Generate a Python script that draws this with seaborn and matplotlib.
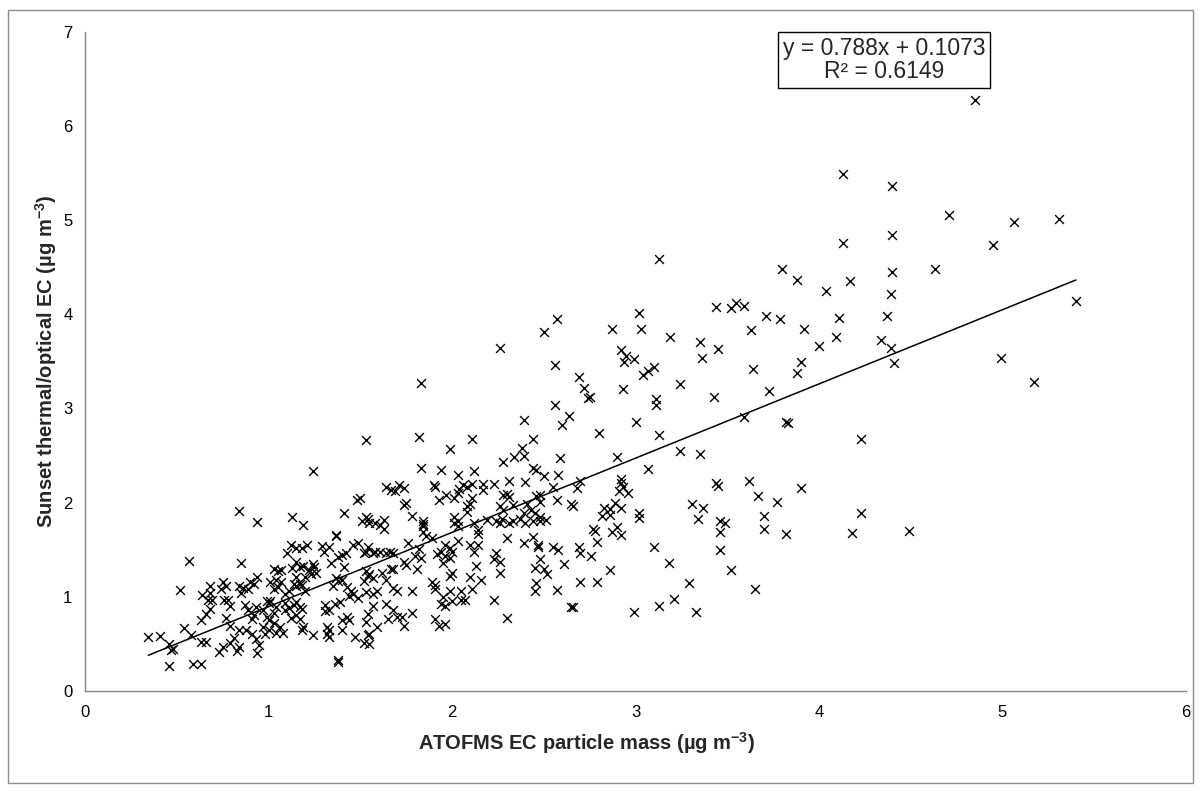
import matplotlib
matplotlib.use("Agg")
import matplotlib.pyplot as plt
from matplotlib.patches import Rectangle
import seaborn as sns
import numpy as np
import pandas as pd

# ---------------- data ----------------
atofms_ec = [
    # high / right part
    4.85, 4.13, 4.40, 4.71, 5.06, 5.31, 4.40, 4.95, 4.13, 4.40, 4.63, 4.39, 4.37, 5.40, 4.39, 4.34, 4.99, 4.41, 5.17, 4.49,
    # x 2.7 - 4.3, upper
    3.13, 3.80, 3.88, 4.17, 4.04, 3.44, 3.52, 3.55, 3.59, 3.02, 3.71, 3.79, 4.11, 2.87, 3.03, 3.63, 3.92, 3.19, 4.09,
    3.35, 3.45, 4.00, 2.92, 2.95, 2.94, 2.99, 3.36, 3.90, 3.88, 3.10, 3.07, 3.04, 3.64, 3.24, 2.93, 3.73, 3.43, 3.11,
    3.11, 2.75, 3.59, 3.00, 3.83, 3.82, 2.80, 3.13, 4.23, 2.90, 3.24, 3.35, 3.07, 2.92, 2.92, 3.44, 3.45, 3.62, 3.90,
    # x 2.7 - 4.3, lower
    2.93, 2.91, 2.96, 2.89, 2.83, 2.86, 2.92, 2.82, 2.86, 3.02, 3.02, 2.78, 2.87, 2.90, 2.92, 2.79, 2.76, 2.86, 2.79,
    2.99, 3.10, 3.18, 3.13, 3.21, 3.29, 3.33, 3.31, 3.37, 3.34, 3.67, 3.77, 3.46, 3.49, 3.46, 3.46, 3.52, 3.70, 3.70,
    3.82, 3.65, 4.18, 4.23,
    # x 2.2 - 2.6, high
    2.26, 2.57, 2.50, 2.56,
    # x 1.5 - 2.8, y 1.7 - 3.4
    1.83, 1.53, 1.82, 2.11, 1.99, 1.83, 1.94, 2.12, 2.03, 2.69, 2.72, 2.74, 2.56, 2.64, 2.60, 2.39, 2.44, 2.38, 2.34,
    2.39, 2.28, 2.59, 2.44, 2.46, 2.50, 2.58, 2.31, 2.40, 2.23, 2.55, 2.70, 2.68, 1.64, 1.67, 1.71, 1.74, 1.69, 1.90,
    1.91, 1.97, 1.93, 2.01, 2.04, 2.08, 2.11, 2.17, 2.17, 2.03, 2.06, 2.11, 2.10, 2.08, 2.08, 2.28, 2.31, 2.30, 2.26,
    2.28, 2.33, 2.41, 2.43, 2.46, 2.48, 2.48, 2.45, 2.48, 2.39, 2.37, 2.40, 2.33, 2.27, 2.26, 2.51, 2.57, 2.65, 2.66,
    1.74, 1.75, 1.78, 1.84, 1.50, 1.53, 1.54, 1.58, 1.61, 1.63, 2.01, 2.03, 2.19, 2.77,
    # x 0.8 - 1.5, y 1.7 - 2.4
    1.24, 1.48, 0.84, 0.94, 1.13, 1.19, 1.41, 1.51,
    # x 0.3 - 1.55, y < 1.7
    1.37, 1.37, 0.565, 0.85, 0.52, 0.345, 0.41, 0.46, 0.48, 0.47, 0.46, 0.59, 0.63, 0.54, 0.58, 0.63, 0.66, 0.63,
    0.66, 0.68, 0.64, 0.68, 0.68, 0.67, 0.69, 0.75, 0.77, 0.74, 0.76, 0.78, 0.79, 0.77, 0.84, 0.79, 0.84, 0.86, 0.89,
    0.85, 0.94, 0.92, 0.90, 0.87, 0.89, 0.92, 0.91, 0.81, 0.79, 0.75, 0.73, 0.83, 0.84, 0.94, 0.95, 0.93, 0.98, 1.00,
    1.03, 0.97, 0.91, 0.88, 0.99, 1.00, 0.97, 1.00, 0.99, 0.93, 1.01, 1.04, 1.07, 1.03, 1.05, 1.07, 1.03, 1.05, 1.01,
    1.04, 1.03, 1.06, 1.08, 1.04, 1.09, 1.11, 1.09, 1.14, 1.12, 1.10, 1.15, 1.21, 1.18, 1.15, 1.17, 1.13, 1.19, 1.22,
    1.24, 1.25, 1.26, 1.23, 1.20, 1.15, 1.14, 1.17, 1.15, 1.18, 1.20, 1.11, 1.09, 1.15, 1.17, 1.18, 1.15, 1.12, 1.17,
    1.19, 1.18, 1.24, 1.29, 1.33, 1.30, 1.34, 1.38, 1.40, 1.42, 1.46, 1.49, 1.52, 1.53, 1.41, 1.37, 1.38, 1.40, 1.35,
    1.43, 1.45, 1.44, 1.46, 1.49, 1.53, 1.52, 1.54, 1.31, 1.33, 1.31, 1.39, 1.36, 1.43, 1.40, 1.44, 1.32, 1.33, 1.32,
    1.33, 1.40, 1.47, 1.52, 1.54, 1.38, 1.38,
    # x 1.5 - 2.8, y < 1.8
    1.84, 1.84, 2.01, 2.03, 2.12, 2.14, 2.14, 1.55, 1.63, 2.24, 2.31, 2.44, 2.48, 2.30, 2.39, 2.44, 2.47, 2.47, 2.55,
    2.58, 2.69, 2.70, 2.48, 2.61, 2.45, 2.50, 2.52, 2.70, 2.46, 2.45, 2.57, 2.66, 2.65, 2.30, 2.23, 2.24, 2.23, 2.26,
    2.26, 2.16, 2.13, 2.10, 2.12, 2.14, 2.03, 1.99, 2.00, 1.96, 1.94, 1.92, 1.96, 1.95, 1.99, 1.86, 1.89, 1.84, 1.76,
    1.82, 1.80, 1.83, 1.81, 1.75, 1.74, 1.68, 1.66, 1.64, 1.61, 1.58, 1.57, 1.54, 1.68, 1.67, 1.53, 1.55, 1.57, 1.62,
    1.64, 1.68, 1.70, 1.78, 1.89, 1.91, 1.91, 1.99, 2.00, 1.99, 2.10, 2.11, 2.05, 2.05, 2.07, 1.95, 1.94, 1.96, 2.00,
    1.57, 1.59, 1.57, 1.64, 1.68, 1.73, 1.78, 1.70, 1.65, 1.54, 1.53, 1.59, 1.74, 1.91, 1.93, 1.96, 1.55, 1.55,
]
sunset_ec = [
    6.27, 5.49, 5.36, 5.05, 4.98, 5.01, 4.84, 4.73, 4.75, 4.45, 4.48, 4.21, 3.98, 4.14, 3.64, 3.73, 3.53, 3.48, 3.28, 1.70,
    4.58, 4.48, 4.36, 4.35, 4.25, 4.08, 4.07, 4.12, 4.09, 4.01, 3.98, 3.95, 3.96, 3.84, 3.84, 3.83, 3.84, 3.76, 3.76,
    3.70, 3.63, 3.66, 3.62, 3.56, 3.49, 3.52, 3.53, 3.49, 3.38, 3.44, 3.40, 3.35, 3.42, 3.26, 3.21, 3.18, 3.12, 3.10,
    3.04, 3.12, 2.91, 2.86, 2.84, 2.86, 2.74, 2.72, 2.68, 2.48, 2.55, 2.52, 2.36, 2.25, 2.21, 2.21, 2.18, 2.23, 2.15,
    2.17, 2.12, 2.10, 2.00, 1.94, 1.93, 1.94, 1.86, 1.87, 1.89, 1.84, 1.70, 1.69, 1.74, 1.66, 1.58, 1.43, 1.28, 1.16,
    0.84, 1.53, 1.36, 0.90, 0.98, 1.15, 0.84, 1.99, 1.94, 1.83, 2.07, 2.01, 1.80, 1.78, 1.69, 1.50, 1.28, 1.86, 1.72,
    1.67, 1.08, 1.68, 1.89,
    3.64, 3.95, 3.81, 3.46,
    3.27, 2.66, 2.70, 2.67, 2.57, 2.37, 2.35, 2.34, 2.29, 3.33, 3.22, 3.11, 3.04, 2.92, 2.82, 2.88, 2.67, 2.58, 2.48,
    2.49, 2.43, 2.47, 2.37, 2.35, 2.28, 2.29, 2.23, 2.22, 2.20, 2.17, 2.23, 2.15, 2.16, 2.13, 2.19, 2.15, 2.12, 2.19,
    2.16, 2.08, 2.03, 2.05, 2.14, 2.17, 2.20, 2.20, 2.13, 2.10, 2.19, 2.05, 1.99, 1.96, 1.90, 2.08, 2.06, 2.09, 1.96,
    1.92, 1.97, 1.99, 1.92, 2.07, 2.08, 2.01, 1.89, 1.85, 1.89, 1.83, 1.78, 1.80, 1.83, 1.78, 1.82, 2.03, 1.99, 1.96,
    1.97, 2.00, 1.86, 1.77, 2.05, 1.85, 1.83, 1.78, 1.76, 1.81, 1.85, 1.80, 1.82, 1.72,
    2.34, 2.03, 1.91, 1.79, 1.85, 1.76, 1.89, 1.80,
    1.66, 1.64, 1.38, 1.36, 1.07, 0.57, 0.58, 0.50, 0.45, 0.43, 0.27, 0.29, 0.29, 0.67, 0.59, 0.52, 0.52, 0.75,
    0.82, 0.87, 1.02, 1.11, 1.04, 0.97, 0.97, 1.16, 1.11, 1.08, 0.97, 0.97, 0.90, 0.78, 0.65, 0.69, 1.11, 1.09, 1.08,
    1.04, 1.21, 1.14, 1.16, 0.91, 0.86, 0.81, 0.76, 0.56, 0.51, 0.47, 0.41, 0.42, 0.47, 0.40, 0.49, 0.55, 0.61, 0.65,
    0.72, 0.68, 0.61, 0.65, 0.79, 0.75, 0.86, 0.93, 0.96, 0.89, 1.16, 1.18, 1.16, 1.30, 1.27, 1.28, 1.08, 1.10, 0.96,
    0.89, 0.83, 0.68, 0.62, 0.62, 0.93, 0.88, 0.86, 0.91, 1.55, 1.47, 1.52, 1.55, 1.52, 1.37, 1.32, 1.31, 1.33, 1.28,
    1.35, 1.32, 1.25, 1.24, 1.21, 1.21, 1.14, 1.14, 1.11, 1.13, 1.06, 1.06, 1.03, 0.94, 0.89, 0.87, 0.81, 0.77, 0.76,
    0.68, 0.65, 0.59, 1.54, 1.53, 1.48, 1.36, 1.42, 1.44, 1.46, 1.55, 1.57, 1.46, 1.48, 1.32, 1.20, 1.17, 1.18, 1.11,
    1.10, 1.06, 1.01, 1.03, 0.99, 1.05, 1.17, 1.22, 0.91, 0.86, 0.85, 0.94, 0.92, 0.79, 0.75, 0.75, 0.68, 0.65, 0.61,
    0.57, 0.65, 0.57, 0.51, 0.59, 0.31, 0.33,
    1.80, 1.75, 1.78, 1.75, 1.78, 1.71, 1.67, 1.78, 1.72, 1.80, 1.78, 1.80, 1.80, 1.62, 1.57, 1.63, 1.55, 1.53, 1.53,
    1.50, 1.53, 1.47, 1.40, 1.35, 1.31, 1.30, 1.24, 1.16, 1.15, 1.06, 1.07, 0.89, 0.89, 0.78, 0.97, 1.46, 1.40, 1.37,
    1.25, 1.18, 1.33, 1.55, 1.48, 1.55, 1.59, 1.52, 1.48, 1.55, 1.48, 1.45, 1.43, 1.36, 1.41, 1.64, 1.62, 1.69, 1.57,
    1.51, 1.43, 1.41, 1.30, 1.34, 1.37, 1.46, 1.48, 1.46, 1.48, 1.48, 1.46, 1.53, 1.30, 1.29, 1.27, 1.24, 1.20, 1.25,
    1.18, 1.09, 1.06, 1.06, 1.16, 1.08, 1.12, 1.06, 1.25, 1.22, 1.21, 1.08, 1.06, 0.97, 0.97, 1.00, 0.92, 0.90, 0.96,
    1.03, 1.06, 0.90, 0.92, 0.86, 0.79, 0.83, 0.79, 0.76, 0.82, 0.73, 0.68, 0.69, 0.76, 0.69, 0.71, 0.61, 0.50,
]

fit_slope = 0.788
fit_intercept = 0.1073
fit_r2 = 0.6149

x_ticks = [0, 1, 2, 3, 4, 5, 6]
y_ticks = [0, 1, 2, 3, 4, 5, 6, 7]
x_label = r"ATOFMS EC particle mass (µg m$^{\mathbf{-3}}$)"
y_label = r"Sunset thermal/optical EC (µg m$^{\mathbf{-3}}$)"

# ---------------- style ----------------
sns.set_theme(style="white")
plt.rcParams['font.family'] = ['Liberation Sans', 'DejaVu Sans']
plt.rcParams['mathtext.fontset'] = 'custom'
plt.rcParams['mathtext.rm'] = 'Liberation Sans'
plt.rcParams['mathtext.bf'] = 'Liberation Sans:bold'
plt.rcParams['mathtext.it'] = 'Liberation Sans:italic'

W, H = 1201, 791
fig = plt.figure(figsize=(W / 100, H / 100), dpi=100)
fig.patch.set_facecolor('white')

# outer chart border
fig.patches.append(Rectangle((8 / W, 8 / H), (1193 - 8) / W, (781 - 8) / H,
                             transform=fig.transFigure, fill=False,
                             edgecolor='#8c8c8c', linewidth=1.0))

ax_left, ax_right, ax_top, ax_bot = 85, 1186, 31.5, 691
ax = fig.add_axes([ax_left / W, (H - ax_bot) / H, (ax_right - ax_left) / W, (ax_bot - ax_top) / H])
ax.set_facecolor('white')

df = pd.DataFrame({'atofms': atofms_ec, 'sunset': sunset_ec})
sns.scatterplot(data=df, x='atofms', y='sunset', marker='x', color='black',
                s=40, linewidth=1.0, ax=ax, zorder=3)

fit_x = np.array([min(atofms_ec), max(atofms_ec)])
fit_y = fit_slope * fit_x + fit_intercept
sns.lineplot(x=fit_x, y=fit_y, color='black', linewidth=1.1, ax=ax, zorder=4)

ax.set_xlim(0, 6)
ax.set_ylim(0, 7)
ax.set_xticks(x_ticks)
ax.set_yticks(y_ticks)
ax.set_xticklabels([str(t) for t in x_ticks])
ax.set_yticklabels([str(t) for t in y_ticks])

for side in ['top', 'right']:
    ax.spines[side].set_visible(False)
for side in ['left', 'bottom']:
    ax.spines[side].set_color('#868686')
    ax.spines[side].set_linewidth(1.0)

ax.tick_params(axis='both', direction='out', length=5, width=1, color='#868686',
               labelsize=12, labelcolor='#000000', pad=4)
ax.tick_params(axis='x', pad=5)
ax.grid(False)

ax.set_xlabel(x_label, fontsize=14.5, fontweight='bold')
ax.set_ylabel(y_label, fontsize=14.5, fontweight='bold', labelpad=3)
# the x-axis title sits left of the plot-area centre in the reference
ax.xaxis.set_label_coords((586 - ax_left) / (ax_right - ax_left), -0.06)
ax.xaxis.label.set_verticalalignment('top')

fig.text(884 / W, (H - 60) / H,
         f"y = {fit_slope}x + {fit_intercept}\nR² = {fit_r2}",
         ha='center', va='center', fontsize=16.5, linespacing=1.05,
         bbox=dict(boxstyle='square,pad=0.2', facecolor='white', edgecolor='black', linewidth=1.0))

fig.savefig('out.png', dpi=100, facecolor='white')
